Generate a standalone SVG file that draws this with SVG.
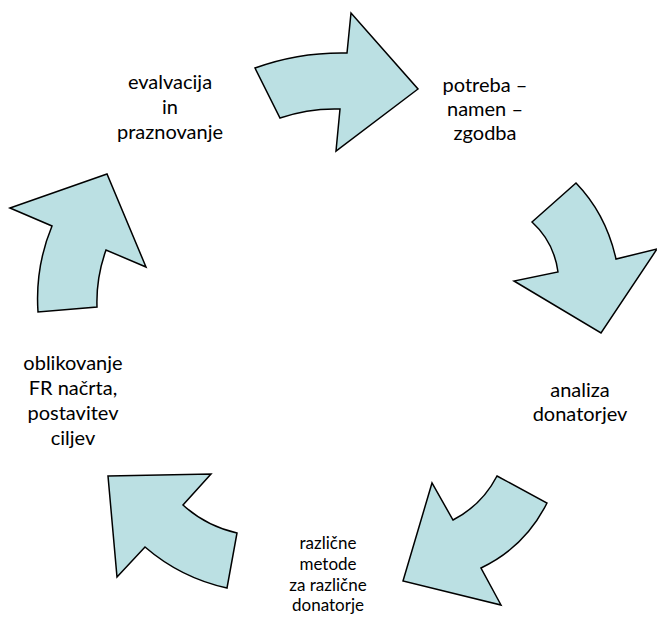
<svg xmlns="http://www.w3.org/2000/svg" width="657" height="617" viewBox="0 0 657 617">
<style>
.arrow{fill:#BBE0E3;stroke:#000;stroke-width:1.5;stroke-linejoin:miter}
.t{font-family:Lato,"Open Sans",sans-serif;font-size:20px;fill:#000;text-anchor:middle}
.s{font-family:Lato,"Open Sans",sans-serif;font-size:17px;fill:#000;text-anchor:middle}
</style>
<rect width="657" height="617" fill="#fff"/>
<g id="connectors">
<path id="arrow-top" class="arrow" d="M255,68 Q299,52 347,53 L351,13 L418,89 L336,151 L340,109 Q309,108 280,118 Z"/>
<path id="arrow-right" class="arrow" d="M532,222 L576,183 Q606,214 616,259 L657,249 L601,333 L514,281 L558,272 Q554,242 532,222 Z"/>
<path id="arrow-bottom-right" class="arrow" d="M497,476 L547,503 Q525,547 481,568 L501,605 L403,581 L432,483 L453,520 Q482,505 497,476 Z"/>
<path id="arrow-bottom-left" class="arrow" d="M108,476 L211,474 L183,505 Q206,526 237,533 L227,588 Q181,578 145,547 L117,577 Z"/>
<path id="arrow-left" class="arrow" d="M10,208 L107,174 L146,267 L106,250 Q96,278 97,307 L38,312 Q35,267 52,226 Z"/>
</g>
<g id="node-potreba">
<text class="t" x="485" y="92">potreba –</text>
<text class="t" x="485" y="116">namen –</text>
<text class="t" x="485" y="140">zgodba</text>
</g>
<g id="node-analiza">
<text class="t" x="580" y="397">analiza</text>
<text class="t" x="580" y="421">donatorjev</text>
</g>
<g id="node-metode">
<text class="s" x="328" y="549">različne</text>
<text class="s" x="328" y="570">metode</text>
<text class="s" x="328" y="591">za različne</text>
<text class="s" x="328" y="611">donatorje</text>
</g>
<g id="node-oblikovanje">
<text class="t" x="73" y="370">oblikovanje</text>
<text class="t" x="73" y="395">FR načrta,</text>
<text class="t" x="73" y="420">postavitev</text>
<text class="t" x="73" y="445">ciljev</text>
</g>
<g id="node-evalvacija">
<text class="t" x="170" y="89">evalvacija</text>
<text class="t" x="170" y="114">in</text>
<text class="t" x="170" y="139">praznovanje</text>
</g>
</svg>
